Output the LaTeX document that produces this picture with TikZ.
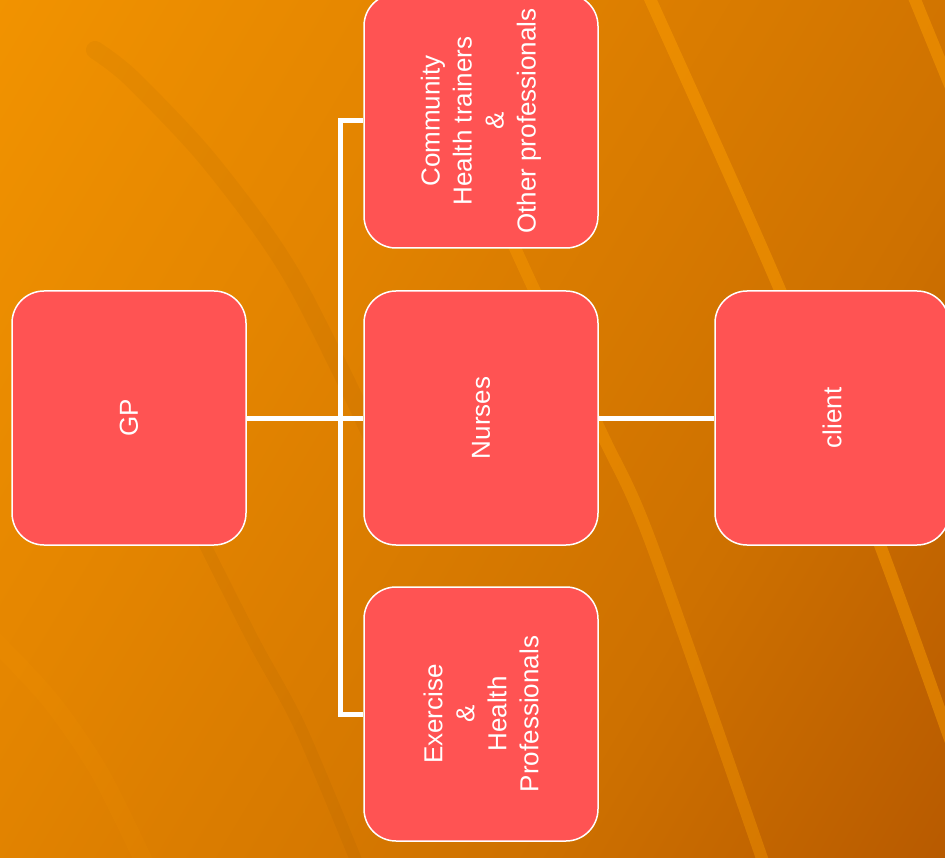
\documentclass[tikz,border=0pt]{standalone}
\usepackage{fontspec}
\setmainfont{Liberation Sans}
\definecolor{boxred}{RGB}{255,83,83}
\definecolor{bgA}{RGB}{251,157,0}
\definecolor{bgM}{RGB}{229,134,0}
\definecolor{bgN}{RGB}{206,113,0}
\definecolor{bgB}{RGB}{166,72,0}
\definecolor{band}{RGB}{255,160,0}
\pgfdeclarehorizontalshading{bggrad}{100bp}{color(0bp)=(bgA); color(35bp)=(bgM); color(65bp)=(bgN); color(100bp)=(bgB)}
\begin{document}
\begin{tikzpicture}[x=1pt,y=-1pt,
  box/.style={draw=white, line width=1.5pt, fill=boxred, rounded corners=32pt,
    minimum width=234pt, minimum height=254pt, inner sep=0pt},
  lbl/.style={rotate=90, text=white, font=\fontsize{26}{32}\selectfont, align=center},
  link/.style={draw=white, line width=5pt},
  lightband/.style={draw=band, line width=12pt, opacity=0.45},
  darkband/.style={draw=black, opacity=0.03, line cap=round}]
\useasboundingbox (0,0) rectangle (945,858);
\clip (0,0) rectangle (945,858);
\shade[shading=bggrad, shading angle=-31] (0,0) rectangle (945,858);
% background streaks
\draw[darkband, line width=18pt] plot[smooth] coordinates {(95,50) (130,77) (200,150) (260,227) (300,290) (355,400) (400,500)};
\draw[darkband, line width=12pt] plot[smooth] coordinates {(195,525) (253,640) (300,727) (360,870)};
\draw[draw=band, line width=18pt, opacity=0.08] plot[smooth] coordinates {(-10,636) (50,700) (100,773) (148,870)};
\draw[lightband] plot[smooth] coordinates {(646,-10) (780,290) (880,545) (952,745)};
\draw[lightband, opacity=0.35] plot[smooth] coordinates {(400,-10) (515,248) (600,430) (650,540) (766,870)};
\draw[lightband] (911,-10) -- (952,90);
% boxes
\node[box] (gp)  at (129,418) {};
\node[box] (nur) at (481,418) {};
\node[box] (com) at (481,121) {};
\node[box] (exe) at (481,714) {};
\node[box] (cli) at (832,418) {};
\coordinate (spine) at (340,418);
% connectors
\draw[link] (gp.east) -- (nur.west);
\draw[link] (com.west) -| (spine) |- (exe.west);
\draw[link] (nur.east) -- (cli.west);
% labels
\node[lbl] at (gp) {GP};
\node[lbl] at (nur) {Nurses};
\node[lbl] at (com) {Community\\Health trainers\\\&\\Other professionals};
\node[lbl] at (exe) {Exercise\\\&\\Health\\Professionals};
\node[lbl] at (cli) {client};
\end{tikzpicture}
\end{document}
